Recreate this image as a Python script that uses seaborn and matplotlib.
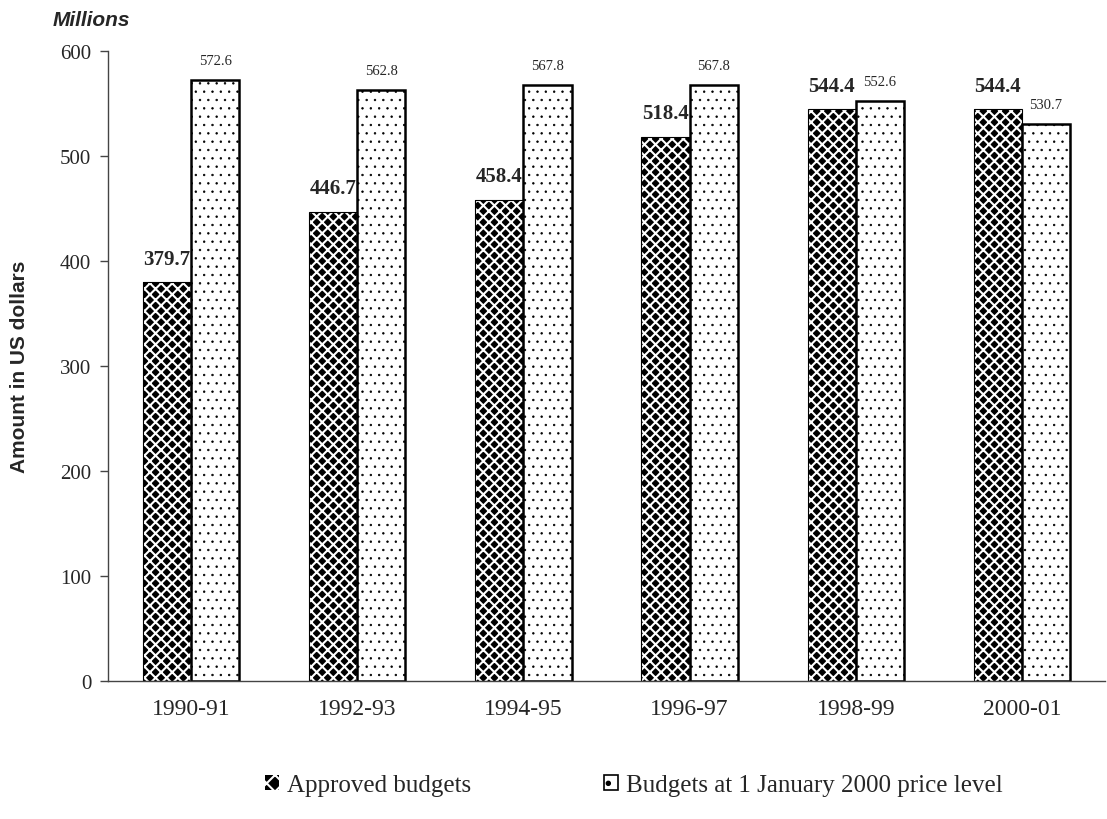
import pandas as pd
import matplotlib.pyplot as plt
import seaborn as sns
from matplotlib.patches import Rectangle, Patch
from matplotlib.ticker import FixedLocator

periods = ["1990-91", "1992-93", "1994-95", "1996-97", "1998-99", "2000-01"]
approved = [379.7, 446.7, 458.4, 518.4, 544.4, 544.4]
constant = [572.6, 562.8, 567.8, 567.8, 552.6, 530.7]
series = ["Approved budgets", "Budgets at 1 January 2000 price level"]

df = pd.DataFrame({
    "period": periods * 2,
    "amount": approved + constant,
    "series": [series[0]] * len(periods) + [series[1]] * len(periods),
})

sns.set_style("white")
plt.rcParams["font.family"] = ["Liberation Serif", "DejaVu Serif"]
plt.rcParams["hatch.linewidth"] = 1.5
sans = ["Liberation Sans", "DejaVu Sans"]


def hatch_lw(p, lw):
    # per-patch hatch width where this matplotlib supports it
    if hasattr(p, "set_hatch_linewidth"):
        p.set_hatch_linewidth(lw)


fig = plt.figure(figsize=(11.07, 8.2), dpi=100)
ax = fig.add_axes([108 / 1107, 1 - 682 / 820, (1105 - 108) / 1107, (682 - 52) / 820])

sns.barplot(data=df, x="period", y="amount", hue="series", ax=ax,
            width=0.58, palette=["black", "white"], saturation=1, legend=False)

n = len(periods)
for i, p in enumerate(ax.patches[:2 * n]):
    x, w, h = p.get_x(), p.get_width(), p.get_height()
    if i < n:
        # black diamonds: white cross-hatch over a black face
        p.set_facecolor("black")
        p.set_edgecolor("white")
        p.set_linewidth(0)
        p.set_hatch("xxx")
        hatch_lw(p, 1.5)
        ax.add_patch(Rectangle((x, 0), w, h, fill=False, ec="black", lw=0.8))
        ax.text(x + w / 2, h + 13, f"{approved[i]:.1f}", ha="center", va="bottom",
                fontsize=15, fontweight="bold")
    else:
        j = i - n
        p.set_facecolor("white")
        p.set_edgecolor("black")
        p.set_linewidth(1.8)
        p.set_hatch("..")
        hatch_lw(p, 0.5)
        ax.text(x + w / 2, h + 12, f"{constant[j]:.1f}", ha="center", va="bottom",
                fontsize=10.5)

ax.set_ylim(0, 600)
ax.set_yticks(range(0, 601, 100))
ax.set_xlim(-0.5, n - 0.5)
ax.xaxis.set_major_locator(FixedLocator([k - 0.5 for k in range(n + 1)]))
ax.xaxis.set_minor_locator(FixedLocator(list(range(n))))
ax.set_xticklabels([], minor=False)
ax.set_xticklabels(periods, minor=True)
ax.tick_params(axis="x", which="major", direction="out", length=6, width=1, color="#444444")
ax.tick_params(axis="x", which="minor", length=0, pad=12, labelsize=17)
ax.tick_params(axis="y", direction="out", length=6, width=1, color="#444444",
               labelsize=15, left=True, pad=6)
for s in ["top", "right"]:
    ax.spines[s].set_visible(False)
for s in ["left", "bottom"]:
    ax.spines[s].set_color("#444444")
    ax.spines[s].set_linewidth(1)

ax.set_xlabel("")
ax.set_ylabel("Amount in US dollars", fontsize=15, fontweight="bold", family=sans)
ax.yaxis.set_label_coords(-(108 - 29) / 997, 0.5)
fig.text(91 / 1107, 1 - 20 / 820, "Millions", fontsize=15, fontweight="bold",
         style="italic", family=sans, ha="center", va="center")

handles = [Patch(facecolor="black", edgecolor="white", hatch="xx", lw=0),
           Patch(facecolor="white", edgecolor="black", hatch=".", lw=1.2)]
for hnd in handles:
    hatch_lw(hnd, 0.8)
fig.legend(handles, series, loc="center", bbox_to_anchor=(634 / 1107, 1 - 786 / 820),
           ncol=2, frameon=False, fontsize=18, handlelength=0.55, handleheight=0.55,
           handletextpad=0.35, columnspacing=5.3)

fig.savefig("out.png", dpi=100)
